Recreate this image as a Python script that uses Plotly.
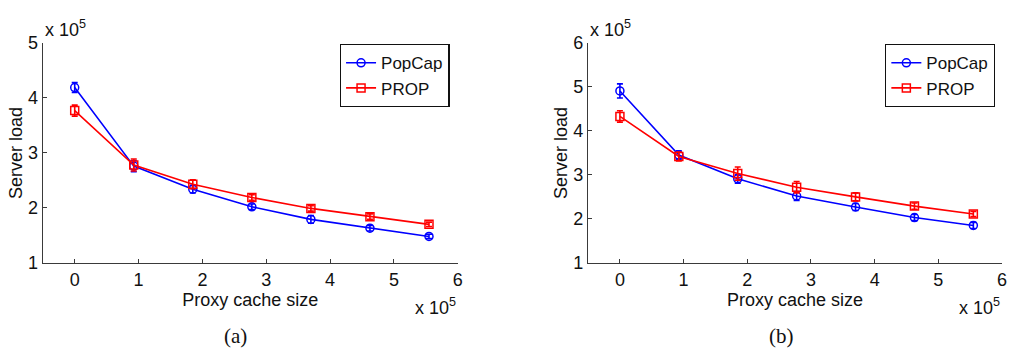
import plotly.graph_objects as go

# ---- data (values in real units; axes labelled in units of 1e5) ----
cache_size = [0, 92500, 185000, 277500, 370000, 462500, 555000]

popcap_a = [419000, 276000, 234000, 202000, 179000, 163000, 148000]
popcap_a_err = [9000, 10000, 7000, 5000, 7000, 5000, 4000]
prop_a = [377000, 278000, 243000, 219000, 199000, 184000, 170000]
prop_a_err = [10000, 11000, 8000, 5000, 5000, 5000, 4000]

popcap_b = [491000, 345000, 291000, 252000, 227000, 203000, 185000]
popcap_b_err = [16000, 10000, 10000, 10000, 8000, 7000, 7000]
prop_b = [433000, 342000, 303000, 272000, 250000, 229000, 211000]
prop_b_err = [13000, 10000, 15000, 13000, 9000, 7000, 6000]

x_ticks = [0, 100000, 200000, 300000, 400000, 500000, 600000]
x_tick_text = ["0", "1", "2", "3", "4", "5", "6"]
y_ticks_a = [100000, 200000, 300000, 400000, 500000]
y_tick_text_a = ["1", "2", "3", "4", "5"]
y_ticks_b = [100000, 200000, 300000, 400000, 500000, 600000]
y_tick_text_b = ["1", "2", "3", "4", "5", "6"]

BLUE = "#0000FF"
RED = "#FF0000"
AX = "#3a3a3a"
FONT = "Liberation Sans, Arial, sans-serif"

fig = go.Figure()


def add_series(x, y, err, color, symbol, name, xa, ya, legend):
    fig.add_trace(go.Scatter(
        x=x, y=y, mode="lines+markers", name=name,
        line=dict(color=color, width=1.6),
        marker=dict(symbol=symbol, size=8, color=color,
                    line=dict(color=color, width=1.5)),
        error_y=dict(type="data", array=err, visible=True, color=color,
                     thickness=1.6, width=3),
        xaxis=xa, yaxis=ya, legend=legend, showlegend=True,
    ))


add_series(cache_size, popcap_a, popcap_a_err, BLUE, "circle-open", "PopCap", "x", "y", "legend")
add_series(cache_size, prop_a, prop_a_err, RED, "square-open", "PROP", "x", "y", "legend")
add_series(cache_size, popcap_b, popcap_b_err, BLUE, "circle-open", "PopCap", "x2", "y2", "legend2")
add_series(cache_size, prop_b, prop_b_err, RED, "square-open", "PROP", "x2", "y2", "legend2")

W, H = 1010, 353
ydom = [1 - 268 / H, 1 - 35 / H]

common_x = dict(range=[-50000, 600000], tickvals=x_ticks, ticktext=x_tick_text,
                showline=True, linecolor=AX, linewidth=1.3, ticks="inside",
                ticklen=4, tickcolor=AX, showgrid=False, zeroline=False,
                tickfont=dict(family=FONT, size=18, color="#111"),
                title=dict(text="Proxy cache size", standoff=0,
                           font=dict(family=FONT, size=18, color="#111")))
common_y = dict(showline=True, linecolor=AX, linewidth=1.3, ticks="inside",
                ticklen=4, tickcolor=AX, showgrid=False, zeroline=False,
                tickfont=dict(family=FONT, size=18, color="#111"),
                title=dict(text="Server load", standoff=0,
                           font=dict(family=FONT, size=18, color="#111")))

legend_style = dict(bordercolor="#111", borderwidth=1.3, bgcolor="white",
                    font=dict(family=FONT, size=17, color="#111"),
                    xanchor="right", yanchor="top", yref="paper", xref="paper",
                    tracegroupgap=0, itemwidth=30)

fig.update_layout(
    width=W, height=H,
    margin=dict(l=0, r=0, t=0, b=0),
    paper_bgcolor="white", plot_bgcolor="white",
    xaxis=dict(domain=[43 / W, 460 / W], anchor="y", **common_x),
    yaxis=dict(domain=ydom, anchor="x", range=[100000, 500000],
               tickvals=y_ticks_a, ticktext=y_tick_text_a, **common_y),
    xaxis2=dict(domain=[591 / W, 1007 / W], anchor="y2", **common_x),
    yaxis2=dict(domain=ydom, anchor="x2", range=[100000, 600000],
                tickvals=y_ticks_b, ticktext=y_tick_text_b, **common_y),
    legend=dict(x=452 / W, y=1 - 36 / H, **legend_style),
    legend2=dict(x=1000 / W, y=1 - 36 / H, **legend_style),
    showlegend=True,
)

mult = "x 10<sup>5</sup>"
ann_font = dict(family=FONT, size=18, color="#111")
for x0, x1 in [(43, 460), (591, 1007)]:
    fig.add_annotation(text=mult, x=x0 / W, y=1 - 20 / H, xref="paper", yref="paper",
                       xanchor="left", yanchor="middle", showarrow=False, font=ann_font)
    fig.add_annotation(text=mult, x=x1 / W, y=1 - 314 / H, xref="paper", yref="paper",
                       xanchor="right", yanchor="middle", showarrow=False, font=ann_font)

cap_font = dict(family="Liberation Serif, DejaVu Serif, serif", size=21, color="#111")
fig.add_annotation(text="(a)", x=237 / W, y=1 - 346 / H, xref="paper", yref="paper",
                   xanchor="center", yanchor="middle", showarrow=False, font=cap_font)
fig.add_annotation(text="(b)", x=785 / W, y=1 - 346 / H, xref="paper", yref="paper",
                   xanchor="center", yanchor="middle", showarrow=False, font=cap_font)

fig.write_html("out.html", config={"displayModeBar": False},
               post_script="document.body.style.margin='0';document.body.style.overflow='hidden';")
